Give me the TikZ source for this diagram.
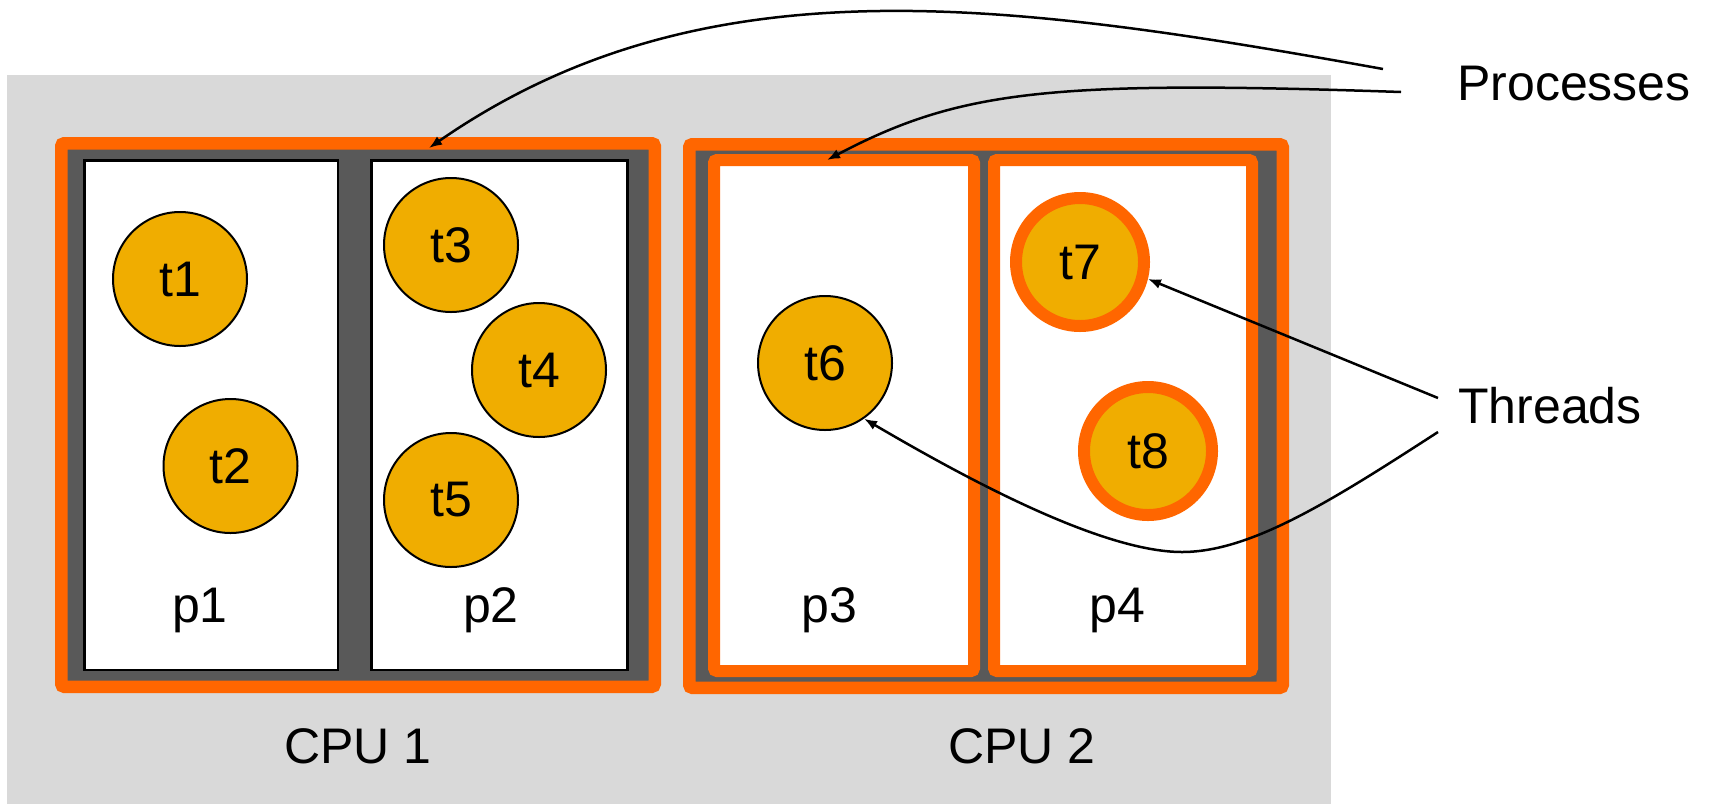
\documentclass[tikz,border=0pt]{standalone}
\usepackage{fontspec}
\setmainfont{Liberation Sans}
\usetikzlibrary{arrows.meta,shadows,calc}
\definecolor{orng}{HTML}{FF6600}
\definecolor{dgray}{HTML}{595959}
\definecolor{bggray}{HTML}{D9D9D9}
\definecolor{thryellow}{HTML}{F0AD00}
\newcommand\mybigfont{\fontsize{50}{60}\selectfont}
\begin{document}
\begin{tikzpicture}[x=1pt,y=-1pt,
  cpubox/.style={rectangle, draw=orng, line width=12.5pt, fill=dgray, rounded corners=3pt, inner sep=0pt},
  procbox/.style={rectangle, draw=black, line width=2.5pt, fill=white, inner sep=0pt},
  hotproc/.style={rectangle, draw=orng, line width=12pt, fill=white, rounded corners=3pt, inner sep=0pt},
  thr/.style={circle, draw=black, line width=2pt, fill=thryellow, minimum size=134pt, inner sep=0pt, font=\mybigfont},
  hotthr/.style={circle, draw=orng, line width=12pt, fill=thryellow, minimum size=128pt, inner sep=0pt, font=\mybigfont,
    drop shadow={shadow xshift=3pt, shadow yshift=-4pt, opacity=0.3, fill=black}},
  lbl/.style={font=\mybigfont, inner sep=0pt},
  conn/.style={line width=2.5pt, -{Latex[length=13pt,width=10pt]}}
]
\useasboundingbox (0,0) rectangle (1718,804);
\fill[bggray] (7,75) rectangle (1331,804);

% CPU 1
\node[cpubox, minimum width=593.5pt, minimum height=543.5pt] (cpu1) at (358,415) {};
\node[procbox, minimum width=253.5pt, minimum height=509.5pt] (p1) at (211,415) {};
\node[procbox, minimum width=255.6pt, minimum height=509.5pt] (p2) at (499.5,415) {};

% CPU 2
\node[cpubox, minimum width=593.5pt, minimum height=543.5pt] (cpu2) at (986,416) {};
\node[hotproc, minimum width=260pt, minimum height=511pt] (p3) at (844,415.5) {};
\node[hotproc, minimum width=258pt, minimum height=511pt] (p4) at (1123,415.5) {};

% threads
\node[thr] (t1) at (180,279) {t1};
\node[thr] (t2) at (230.5,466) {t2};
\node[thr] (t3) at (451,245) {t3};
\node[thr] (t4) at (539,370) {t4};
\node[thr] (t5) at (451,500) {t5};
\node[thr] (t6) at (825,363) {t6};
\node[hotthr] (t7) at (1080,262) {t7};
\node[hotthr] (t8) at (1148,451) {t8};

% labels
\node[lbl, anchor=base] (lp1) at (200,622) {p1};
\node[lbl, anchor=base] (lp2) at (491,622) {p2};
\node[lbl, anchor=base] (lp3) at (829,622) {p3};
\node[lbl, anchor=base] (lp4) at (1117,622) {p4};
\node[lbl, anchor=base] (lcpu1) at (358,763) {CPU 1};
\node[lbl, anchor=base] (lcpu2) at (1022,763) {CPU 2};
\node[lbl, anchor=base west] (procs) at (1457,100) {Processes};
\node[lbl, anchor=base west] (threads) at (1458,423) {Threads};

% connectors
\coordinate (pa) at (1383,69);
\coordinate (pb) at (1401,92);
\coordinate (ta) at (1438,398);
\coordinate (tb) at (1438,432);
\draw[conn] (pa) .. controls (1000,0) and (700,-40) .. ([xshift=71pt,yshift=-11pt]cpu1.north);
\draw[conn] (pb) .. controls (1050,80) and (960,90) .. ([xshift=-17pt,yshift=-6pt]p3.north);
\draw[conn] (ta) -- (t7.-14);
\draw[conn] (tb) .. controls (1330,502) and (1250,552) .. (1182,552) .. controls (1100,552) and (960,475) .. (t6.-55);
\end{tikzpicture}
\end{document}
